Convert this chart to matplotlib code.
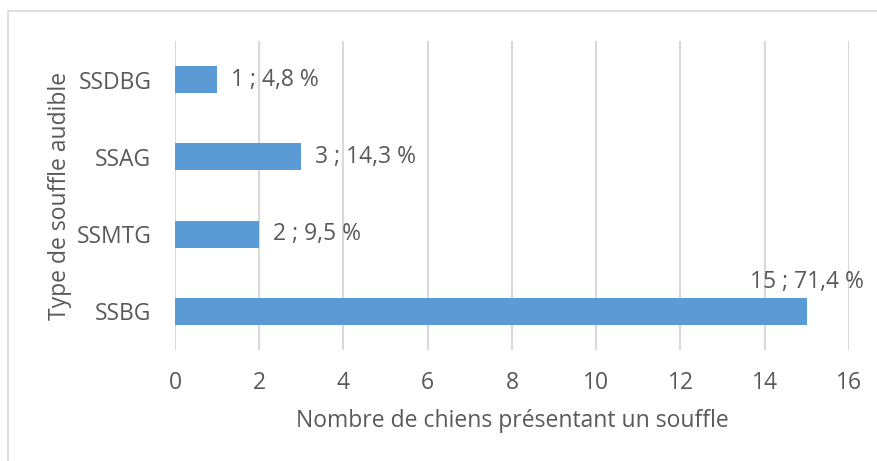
import matplotlib.pyplot as plt
from matplotlib.patches import Rectangle

categories = ["SSBG", "SSMTG", "SSAG", "SSDBG"]
counts = [15, 2, 3, 1]
labels = ["15 ; 71,4 %", "2 ; 9,5 %", "3 ; 14,3 %", "1 ; 4,8 %"]
xticks = [0, 2, 4, 6, 8, 10, 12, 14, 16]

text_col = "#595959"
bar_col = "#5B9BD5"
grid_col = "#D9D9D9"

plt.rcParams["font.family"] = ["Open Sans", "DejaVu Sans"]
plt.rcParams["font.size"] = 16.5

fig = plt.figure(figsize=(8.78, 4.61), dpi=100)
W, H = 878, 461

# chart frame (only top and left edges show in the crop)
fig.patches.append(Rectangle((8 / W, -0.1), 1.2, 1 - 11 / H + 0.1,
                             transform=fig.transFigure, fill=False,
                             edgecolor=grid_col, linewidth=1.2))

ax = fig.add_axes([175 / W, 1 - 350 / H, (849 - 175) / W, (350 - 41) / H])
ypos = range(len(categories))
ax.barh(ypos, counts, height=0.35, color=bar_col, zorder=2)

ax.set_xlim(0, 16)
ax.set_ylim(-0.5, 3.5)
ax.set_xticks(xticks)
ax.set_yticks(list(ypos))
ax.set_yticklabels(categories)
ax.tick_params(axis="both", length=0, colors=text_col)
ax.tick_params(axis="x", pad=15)
ax.tick_params(axis="y", pad=17)
ax.xaxis.grid(True, color=grid_col, linewidth=1.5, zorder=0)
for s in ax.spines.values():
    s.set_visible(False)

for y, v, lab in zip(ypos, counts, labels):
    if v >= 10:
        ax.annotate(lab, (v, y + 0.175), xytext=(0, 3), textcoords="offset points",
                    ha="center", va="bottom", color=text_col)
    else:
        ax.annotate(lab, (v, y), xytext=(10, 0), textcoords="offset points",
                    ha="left", va="center", color=text_col)

ax.set_xlabel("Nombre de chiens présentant un souffle", color=text_col, labelpad=10)
ax.set_ylabel("Type de souffle audible", color=text_col, labelpad=3)

fig.savefig("out.png", dpi=100)
